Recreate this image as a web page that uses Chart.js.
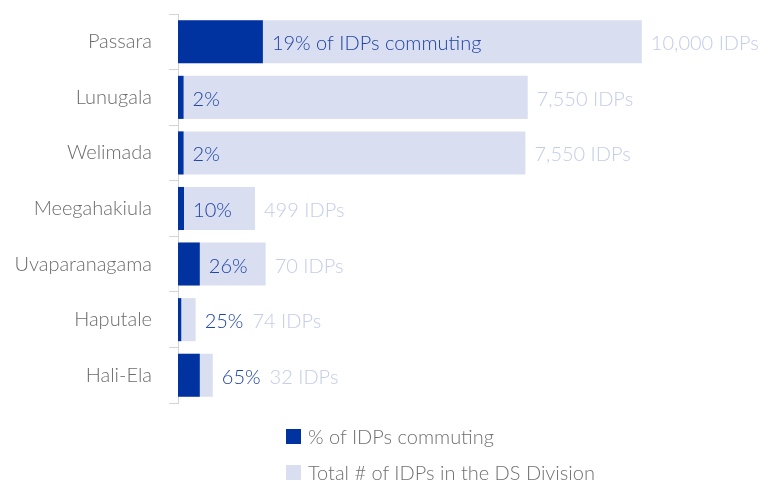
<!DOCTYPE html>
<html>
<head>
<meta charset="utf-8">
<script src="https://cdn.jsdelivr.net/npm/chart.js@4/dist/chart.umd.min.js"></script>
<style>
  html, body { margin: 0; padding: 0; background: #fff; }
  #wrap { position: relative; width: 772px; height: 481px; overflow: hidden; }
  #chart { display: block; }
  #legend { position: absolute; left: 286px; top: 418px; font: 300 20px Lato, sans-serif; color: #707070; }
  #legend div { display: flex; align-items: center; height: 36px; white-space: nowrap; }
  #legend span.box { width: 15px; height: 15px; margin-right: 7px; display: inline-block; }
</style>
</head>
<body>
<div id="wrap">
  <canvas id="chart" width="772" height="481"></canvas>
  <div id="legend"></div>
</div>
<script>
// DS divisions, top to bottom
const divisions = ['Passara', 'Lunugala', 'Welimada', 'Meegahakiula', 'Uvaparanagama', 'Haputale', 'Hali-Ela'];
const commutingPct = [19, 2, 2, 10, 26, 25, 65];
const idpTotals = [10000, 7550, 7550, 499, 70, 74, 32];
// bar lengths as drawn in the source (Passara = 100)
const totalBarLength = [100, 75.4, 74.9, 16.6, 18.9, 3.8, 7.5];
const commutingBarLength = [18.3, 1.2, 1.2, 1.3, 4.7, 0.7, 4.7];

const DARK = '#0033a0';
const LIGHT = '#d9dff0';
const PCT_TEXT = '#1f43a8';
const IDP_TEXT = '#c3cce9';
const FONT = '300 20px Lato, sans-serif';
const GAP = 9;

const fmt = (n) => n.toLocaleString('en-US');

// draws the "% commuting" and "IDPs" labels next to each bar
const barLabels = {
  id: 'barLabels',
  afterDatasetsDraw(chart) {
    const ctx = chart.ctx;
    const dark = chart.getDatasetMeta(0).data;
    const light = chart.getDatasetMeta(1).data;
    ctx.save();
    ctx.font = FONT;
    ctx.textBaseline = 'middle';
    ctx.textAlign = 'left';
    divisions.forEach((_, i) => {
      const y = light[i].y + 2;
      const darkEnd = dark[i].x;
      const lightEnd = light[i].x;
      const pctText = i === 0 ? `${commutingPct[i]}% of IDPs commuting` : `${commutingPct[i]}%`;
      const w = ctx.measureText(pctText).width;
      let x = darkEnd + GAP;
      if (x + w + GAP > lightEnd) x = lightEnd + GAP;
      ctx.fillStyle = PCT_TEXT;
      ctx.fillText(pctText, x, y);
      const idpX = Math.max(lightEnd, x + w) + GAP;
      ctx.fillStyle = IDP_TEXT;
      ctx.fillText(`${fmt(idpTotals[i])} IDPs`, idpX, y);
    });
    ctx.restore();
  },
};

const chart = new Chart(document.getElementById('chart'), {
  type: 'bar',
  data: {
    labels: divisions,
    datasets: [
      { label: '% of IDPs commuting', data: commutingBarLength, backgroundColor: DARK, order: 0 },
      { label: 'Total # of IDPs in the DS Division', data: totalBarLength, backgroundColor: LIGHT, order: 1 },
    ],
  },
  options: {
    indexAxis: 'y',
    responsive: false,
    animation: false,
    layout: { padding: { left: 10, top: 14, right: 4, bottom: 78 } },
    datasets: { bar: { grouped: false, categoryPercentage: 1, barPercentage: 0.775 } },
    scales: {
      x: { display: false, min: 0, max: 127.2 },
      y: {
        afterFit: (scale) => {
          scale.width = 168;
          scale.paddingTop = 0;
          scale.paddingBottom = 0;
        },
        border: { display: true, color: '#d4d4d4', width: 1 },
        grid: { offset: true, drawOnChartArea: false, drawTicks: true, tickLength: 9, color: '#d4d4d4' },
        ticks: { color: '#6b6b6b', font: { family: 'Lato', size: 20, weight: 300 }, padding: 17 },
      },
    },
    plugins: { legend: { display: false }, tooltip: { enabled: false } },
  },
  plugins: [barLabels],
});

// two-row legend under the chart, built from the datasets
const legendEl = document.getElementById('legend');
chart.data.datasets.forEach((ds) => {
  const row = document.createElement('div');
  row.innerHTML = `<span class="box" style="background:${ds.backgroundColor}"></span>${ds.label}`;
  legendEl.appendChild(row);
});
</script>
</body>
</html>
